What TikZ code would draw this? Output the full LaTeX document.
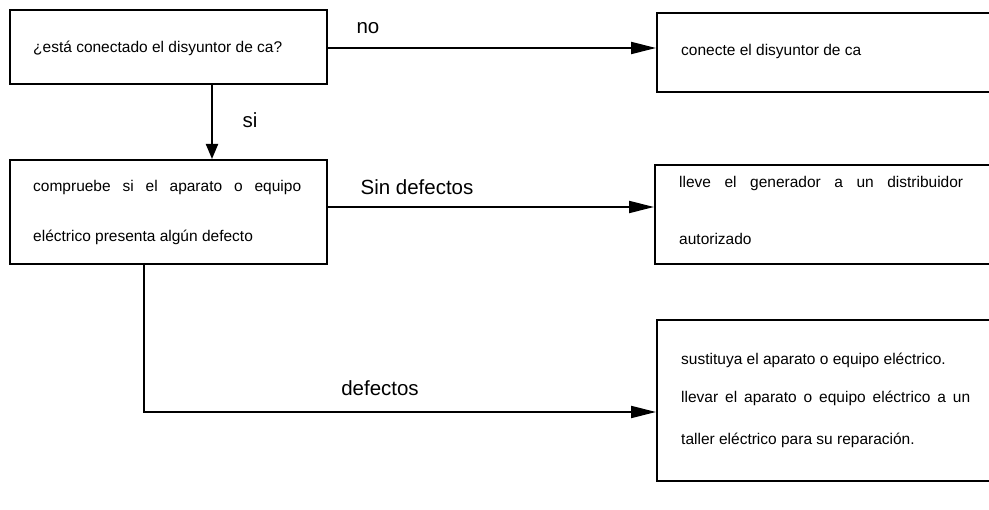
\documentclass[tikz,border=0pt]{standalone}
\usepackage{fontspec}
\setmainfont{Liberation Sans}
\usetikzlibrary{arrows.meta}
\begin{document}
\begin{tikzpicture}[x=1pt,y=-1pt,
  box/.style={draw=black,line width=1.9pt,fill=white,inner sep=0pt,anchor=north west},
  txt/.style={anchor=mid west,inner sep=0pt,font=\fontsize{15.5}{18}\selectfont},
  lbl/.style={inner sep=0pt,font=\fontsize{20.5}{24}\selectfont},
  conn/.style={line width=2pt,-{Triangle[length=25pt,width=12pt]}},
  vconn/.style={line width=2pt,-{Triangle[length=15pt,width=12pt]}}]
\useasboundingbox (0,0) rectangle (989,510);
% boxes
\node[box,minimum width=317pt,minimum height=74pt] (b1) at (9,9) {};
\node[box,minimum width=317pt,minimum height=104pt] (b2) at (9,159) {};
\node[box,minimum width=400pt,minimum height=79pt] (b3) at (656,12) {};
\node[box,minimum width=400pt,minimum height=99pt] (b4) at (654,164) {};
\node[box,minimum width=400pt,minimum height=161pt] (b5) at (656,319) {};
% texts
\node[txt] (t1) at (33,50) {¿está conectado el disyuntor de ca?};
\node[txt] (t2a) at (33,189) {\makebox[268pt][s]{compruebe si el aparato o equipo}};
\node[txt] (t2b) at (33,239) {eléctrico presenta algún defecto};
\node[txt] (t3) at (681,53) {conecte el disyuntor de ca};
\node[txt] (t4a) at (679,185) {\makebox[284pt][s]{lleve el generador a un distribuidor}};
\node[txt] (t4b) at (679,242) {autorizado};
\node[txt] (t5a) at (681,362) {sustituya el aparato o equipo eléctrico.};
\node[txt] (t5b) at (681,400) {\makebox[289pt][s]{llevar el aparato o equipo eléctrico a un}};
\node[txt] (t5c) at (681,442) {taller eléctrico para su reparación.};
% connectors
\coordinate (c1) at (326,48);
\coordinate (c2) at (326,207);
\coordinate (d0) at (144,263);
\coordinate (d1) at (144,412);
\draw[conn] (c1) -- (c1 -| b3.west);
\draw[vconn] (b1.south -| 212,0) -- (b2.north -| 212,0);
\draw[conn] (c2) -- (c2 -| b4.west);
\draw[conn] (d0) -- (d1) -- (d1 -| b5.west);
% labels
\node[lbl] (l1) at (368,28) {no};
\node[lbl] (l2) at (250,120) {si};
\node[lbl] (l3) at (417,187) {Sin defectos};
\node[lbl] (l4) at (380,388) {defectos};
\end{tikzpicture}
\end{document}
